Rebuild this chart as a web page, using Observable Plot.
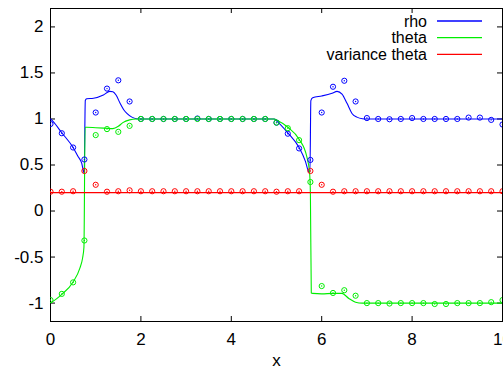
<!DOCTYPE html>
<html>
<head>
<meta charset="utf-8">
<script src="https://cdn.jsdelivr.net/npm/d3@7"></script>
<script src="https://cdn.jsdelivr.net/npm/@observablehq/plot@0.6"></script>
<style>
  html, body { margin: 0; padding: 0; background: white; overflow: hidden; }
  #chart { width: 503px; height: 371px; }
</style>
</head>
<body>
<div id="chart"></div>
<script>
// ---- data ----
const xTicks = [0, 2, 4, 6, 8, 10];
const yTicks = [-1, -0.5, 0, 0.5, 1, 1.5, 2];
const seriesNames = ["rho", "theta", "variance theta"];
const seriesColors = ["#0000ff", "#00ee00", "#ff0000"];

// sampled points (circles)
const pointX = [0, 0.25, 0.5, 0.75, 1, 1.25, 1.5, 1.75, 2, 2.25, 2.5, 2.75, 3, 3.25, 3.5, 3.75,
  4, 4.25, 4.5, 4.75, 5, 5.25, 5.5, 5.75, 6, 6.25, 6.5, 6.75, 7, 7.25, 7.5, 7.75,
  8, 8.25, 8.5, 8.75, 9, 9.25, 9.5, 9.75, 10];
const rhoPts = [0.945, 0.845, 0.69, 0.56, 1.07, 1.33, 1.42, 1.19, 1.0, 1.0, 1.0, 1.0, 1.0, 1.005, 1.0, 1.0,
  1.0, 1.0, 1.0, 1.0, 0.96, 0.84, 0.68, 0.555, 1.07, 1.35, 1.415, 1.19, 1.01, 1.0, 0.997, 1.0,
  1.01, 1.0, 1.0, 1.0, 1.0, 1.015, 1.015, 0.99, 0.94];
const thetaPts = [-0.967, -0.9, -0.775, -0.32, 0.825, 0.89, 0.86, 0.925, 1.0, 1.0, 1.0, 1.0, 1.0, 1.0, 1.0, 1.0,
  1.0, 1.0, 1.0, 1.0, 0.96, 0.9, 0.77, 0.315, -0.815, -0.89, -0.86, -0.92, -1.0, -1.0, -1.005, -1.0,
  -1.0, -1.0, -1.01, -1.01, -1.0, -1.0, -1.0, -0.99, -0.967];
const varPts = [0.21, 0.21, 0.215, 0.435, 0.285, 0.21, 0.215, 0.225, 0.215, 0.215, 0.215, 0.215, 0.215, 0.215, 0.215, 0.215,
  0.215, 0.215, 0.215, 0.215, 0.21, 0.215, 0.215, 0.435, 0.285, 0.21, 0.215, 0.215, 0.215, 0.215, 0.215, 0.215,
  0.215, 0.215, 0.215, 0.215, 0.215, 0.215, 0.215, 0.215, 0.215];

// continuous solutions (lines)
const rhoLineX = [0, 0.06, 0.25, 0.5, 0.6, 0.69, 0.745, 0.77, 0.8, 0.95, 1.17, 1.31, 1.38, 1.45, 1.54, 1.62, 1.69, 1.8, 1.9, 2.0,
  4.95, 5.0, 5.25, 5.5, 5.64, 5.71, 5.74, 5.76, 5.8, 6.0, 6.23, 6.34, 6.45, 6.56, 6.67, 6.78, 6.9, 7.0, 10];
const rhoLineY = [1.0, 0.97, 0.85, 0.69, 0.6, 0.52, 0.41, 1.2, 1.22, 1.225, 1.26, 1.3, 1.295, 1.26, 1.17, 1.1, 1.06, 1.02, 1.003, 1.0,
  1.0, 0.98, 0.85, 0.69, 0.54, 0.43, 0.42, 1.2, 1.23, 1.25, 1.28, 1.3, 1.27, 1.17, 1.06, 1.02, 1.003, 1.0, 1.0];
const thetaLineX = [0, 0.02, 0.25, 0.5, 0.65, 0.71, 0.74, 0.765, 0.8, 1.0, 1.2, 1.38, 1.5, 1.6, 1.75, 1.9,
  4.95, 5.0, 5.25, 5.5, 5.67, 5.73, 5.75, 5.77, 5.8, 6.0, 6.25, 6.45, 6.6, 6.75, 6.9, 10];
const thetaLineY = [-0.995, -0.99, -0.905, -0.77, -0.62, -0.51, -0.39, 0.91, 0.91, 0.905, 0.9, 0.895, 0.92, 0.96, 0.99, 1.0,
  1.0, 0.99, 0.91, 0.78, 0.59, 0.43, 0.19, -0.89, -0.895, -0.9, -0.895, -0.895, -0.95, -0.99, -1.0, -1.0];
const varLineX = [0, 10];
const varLineY = [0.2, 0.2];

// ---- tables built from the arrays ----
const toRows = (xs, ys) => xs.map((x, i) => ({x, y: ys[i]}));
const lines = [toRows(rhoLineX, rhoLineY), toRows(thetaLineX, thetaLineY), toRows(varLineX, varLineY)];
const pts = [toRows(pointX, rhoPts), toRows(pointX, thetaPts), toRows(pointX, varPts)];

const FONT = "'Liberation Sans', Arial, Helvetica, sans-serif";
const fmt = d => String(d);

const marks = [
  Plot.frame({stroke: "black", strokeWidth: 1}),
  // inward ticks on all four sides
  Plot.gridX(xTicks, {stroke: "black", strokeOpacity: 1, insetTop: 308}),
  Plot.gridX(xTicks, {stroke: "black", strokeOpacity: 1, insetBottom: 308}),
  Plot.gridY(yTicks, {stroke: "black", strokeOpacity: 1, insetRight: 447}),
  Plot.gridY(yTicks, {stroke: "black", strokeOpacity: 1, insetLeft: 447}),
  Plot.axisX(xTicks, {tickSize: 0, tickPadding: 11, tickFormat: fmt, label: null, fontSize: 17}),
  Plot.axisY(yTicks, {tickSize: 0, tickPadding: 7, tickFormat: fmt, label: null, fontSize: 17}),
  Plot.text(["x"], {text: d => d, frameAnchor: "bottom", dy: 44, fontSize: 17})
];
lines.forEach((rows, i) => {
  marks.push(Plot.line(rows, {x: "x", y: "y", stroke: seriesColors[i], strokeWidth: 1.1, curve: "monotone-x", clip: true}));
});
pts.forEach((rows, i) => {
  marks.push(Plot.dot(rows, {x: "x", y: "y", r: 2.6, stroke: seriesColors[i], strokeWidth: 1, fill: "none", clip: true}));
  marks.push(Plot.dot(rows, {x: "x", y: "y", r: 0.7, fill: seriesColors[i], stroke: "none", clip: true}));
});

const plot = Plot.plot({
  width: 503,
  height: 371,
  marginLeft: 50,
  marginRight: 1,
  marginTop: 8,
  marginBottom: 50,
  style: `font-family: ${FONT}; font-size: 17px; color: black; background: white; overflow: visible;`,
  x: {domain: [0, 10]},
  y: {domain: [-1.2, 2.2]},
  marks
});

// legend (inside the plot, top right, gnuplot style)
const svg = d3.select(plot);
const lg = svg.append("g").attr("font-family", FONT).attr("font-size", 16);
seriesNames.forEach((name, i) => {
  const cy = 21 + i * 16.7;
  lg.append("text").attr("x", 427).attr("y", cy + 5.5).attr("text-anchor", "end").attr("fill", "black").text(name);
  lg.append("line").attr("x1", 437).attr("x2", 482).attr("y1", cy).attr("y2", cy)
    .attr("stroke", seriesColors[i]).attr("stroke-width", 1.3);
});

document.getElementById("chart").appendChild(plot);
</script>
</body>
</html>
